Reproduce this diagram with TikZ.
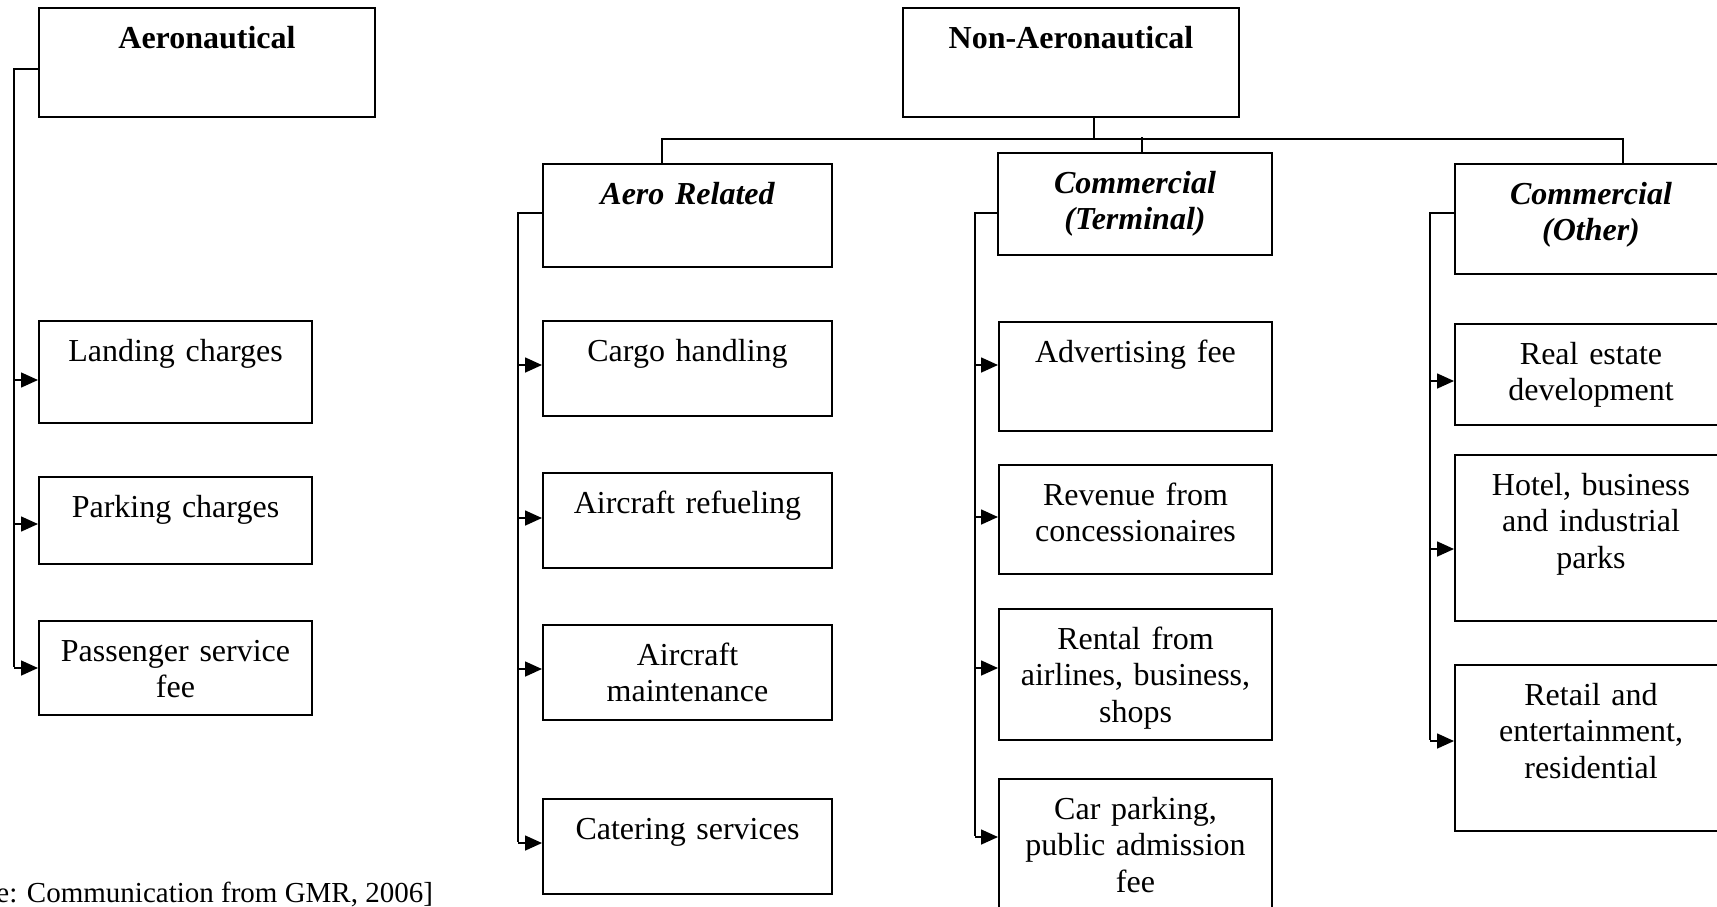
\documentclass[tikz,border=0pt]{standalone}
\usepackage{fontspec}
\setmainfont{Liberation Serif}
\usetikzlibrary{arrows.meta}

\tikzset{
  box/.style={draw, line width=1pt, anchor=north west, inner sep=0pt, align=center,
    text height=20pt, font=\fontsize{16}{18.4}\selectfont},
  head/.style={box, font=\fontsize{16}{18.4}\selectfont\bfseries},
  subhead/.style={box, font=\fontsize{16}{18.4}\selectfont\bfseries\itshape},
  conn/.style={line width=0.8pt},
  arr/.style={conn, -{Triangle[length=8.5pt,width=7.5pt]}}
}

\begin{document}
\begin{tikzpicture}[x=0.5pt, y=-0.5pt]
\useasboundingbox (0,0) rectangle (1717,906);
\clip (0,0) rectangle (1717,906);

% aeronautical side
\node[head, text width=168pt, text depth=34.5pt] (aero) at (38,7) {Aeronautical};
\node[box, text width=136.5pt, text depth=31pt] (land) at (38,320) {Landing charges};
\node[box, text width=136.5pt, text depth=23.5pt] (park) at (38,476) {Parking charges};
\node[box, text width=136.5pt, text depth=27pt] (pass) at (38,620) {Passenger service\\fee};

% non-aeronautical side
\node[head, text width=168pt, text depth=34.5pt] (nonaero) at (902,7) {Non-Aeronautical};
\node[subhead, text width=144.5pt, text depth=31.5pt] (aerorel) at (542,163) {Aero Related};
\node[subhead, text width=137pt, text depth=31pt] (term) at (997,152) {Commercial\\(Terminal)};
\node[subhead, text width=136pt, text depth=35pt] (other) at (1454,163) {Commercial\\(Other)};

\node[box, text width=144.5pt, text depth=27.5pt] (cargo) at (542,320) {Cargo handling};
\node[box, text width=144.5pt, text depth=27.5pt] (refuel) at (542,472) {Aircraft refueling};
\node[box, text width=144.5pt, text depth=27.5pt] (maint) at (542,624) {Aircraft\\maintenance};
\node[box, text width=144.5pt, text depth=27.5pt] (cater) at (542,798) {Catering services};

\node[box, text width=136.5pt, text depth=34.5pt] (adv) at (998,321) {Advertising fee};
\node[box, text width=136.5pt, text depth=34.5pt] (rev) at (998,464) {Revenue from\\concessionaires};
\node[box, text width=136.5pt, text depth=45.5pt] (rent) at (998,608) {Rental from\\airlines, business,\\shops};
\node[box, text width=136.5pt, text depth=50pt] (car) at (998,778) {Car parking,\\public admission\\fee};

\node[box, text width=136pt, text depth=30.5pt] (real) at (1454,323) {Real estate\\development};
\node[box, text width=136pt, text depth=63pt] (hotel) at (1454,454) {Hotel, business\\and industrial\\parks};
\node[box, text width=136pt, text depth=63pt] (retail) at (1454,664) {Retail and\\entertainment,\\residential};

\node[font=\fontsize{14.5}{17}\selectfont, anchor=base west, inner sep=0pt] (src) at (-4,902) {e: Communication from GMR, 2006]};

% trunk ends and bus
\coordinate (tA) at (14,667);
\coordinate (tR) at (518,842);
\coordinate (tT) at (975,836);
\coordinate (tO) at (1430,740);
\coordinate (busL) at (662,139);
\coordinate (busR) at (1623,139);
\coordinate (stemN) at (1094,139);
\coordinate (stemT) at (1142,137);

\draw[conn] (nonaero.south -| stemN) -- (stemN);
\draw[conn] (aerorel.north -| busL) |- (busR) -- (other.north -| busR);
\draw[conn] (stemT) -- (term.north -| stemT);

\draw[conn] ([yshift=-3.25pt]aero.west) -| (tA);
\foreach \b/\s in {land/-4, park/-1.75, pass/0}
  \draw[arr, transform canvas={yshift=\s pt}] (tA |- \b.west) -- (\b.west);

\draw[conn] ([yshift=1.25pt]aerorel.west) -| (tR);
\foreach \b/\s in {cargo/1.75, refuel/1.25, maint/1.75, cater/1.75}
  \draw[arr, transform canvas={yshift=\s pt}] (tR |- \b.west) -- (\b.west);

\draw[conn] ([yshift=-4.5pt]term.west) -| (tT);
\foreach \b/\s in {adv/5.75, rev/1.25, rent/3.25, car/6}
  \draw[arr, transform canvas={yshift=\s pt}] (tT |- \b.west) -- (\b.west);

\draw[conn] ([yshift=3pt]other.west) -| (tO);
\foreach \b/\s in {real/-3.25, hotel/-5.5, retail/3.5}
  \draw[arr, transform canvas={yshift=\s pt}] (tO |- \b.west) -- (\b.west);

\end{tikzpicture}
\end{document}
